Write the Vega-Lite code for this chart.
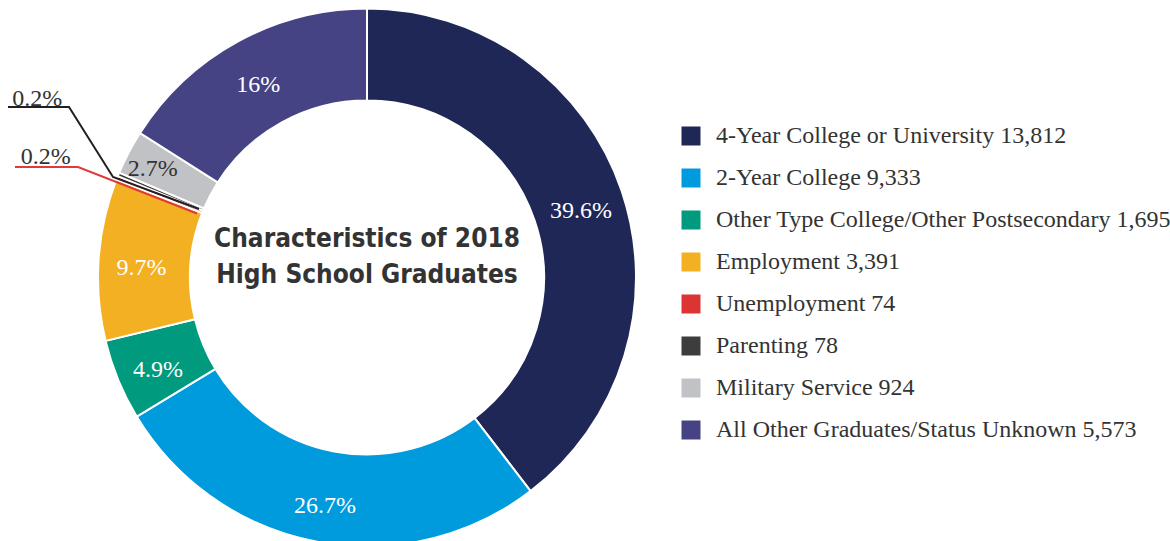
{
  "$schema": "https://vega.github.io/schema/vega-lite/v6.json",
  "padding": {"left": 0, "top": 0, "right": 436, "bottom": 0},
  "autosize": {"type": "none"},
  "width": 734,
  "height": 555,
  "background": "white",
  "config": {"view": {"stroke": null}},
  "datasets": {
    "slices": [
      {"idx": 1, "status": "4-Year College or University", "count": 13812, "pct": "39.6%", "label": "4-Year College or University 13,812"},
      {"idx": 2, "status": "2-Year College", "count": 9333, "pct": "26.7%", "label": "2-Year College 9,333"},
      {"idx": 3, "status": "Other Type College/Other Postsecondary", "count": 1695, "pct": "4.9%", "label": "Other Type College/Other Postsecondary 1,695"},
      {"idx": 4, "status": "Employment", "count": 3391, "pct": "9.7%", "label": "Employment 3,391"},
      {"idx": 5, "status": "Unemployment", "count": 74, "pct": "0.2%", "label": "Unemployment 74"},
      {"idx": 6, "status": "Parenting", "count": 78, "pct": "0.2%", "label": "Parenting 78"},
      {"idx": 7, "status": "Military Service", "count": 924, "pct": "2.7%", "label": "Military Service 924"},
      {"idx": 8, "status": "All Other Graduates/Status Unknown", "count": 5573, "pct": "16%", "label": "All Other Graduates/Status Unknown 5,573"}
    ],
    "leaders": [
      {"line": "Parenting", "seq": 1, "x": -359, "y": 170.5},
      {"line": "Parenting", "seq": 2, "x": -298, "y": 170.5},
      {"line": "Parenting", "seq": 3, "x": -254, "y": 100.5},
      {"line": "Parenting", "seq": 4, "x": -168, "y": 68.5},
      {"line": "Unemployment", "seq": 1, "x": -352, "y": 110.5},
      {"line": "Unemployment", "seq": 2, "x": -289, "y": 110.5},
      {"line": "Unemployment", "seq": 3, "x": -170, "y": 64}
    ]
  },
  "layer": [
    {
      "data": {"name": "slices"},
      "mark": {"type": "arc", "radius": 269, "radius2": 177, "stroke": "white", "strokeWidth": 2},
      "encoding": {
        "theta": {"field": "count", "type": "quantitative", "stack": true},
        "order": {"field": "idx", "type": "quantitative"},
        "color": {
          "field": "label",
          "type": "nominal",
          "scale": {
            "domain": [
              "4-Year College or University 13,812",
              "2-Year College 9,333",
              "Other Type College/Other Postsecondary 1,695",
              "Employment 3,391",
              "Unemployment 74",
              "Parenting 78",
              "Military Service 924",
              "All Other Graduates/Status Unknown 5,573"
            ],
            "range": ["#1f2757", "#009bdd", "#009a7e", "#f2b022", "#dc3333", "#3d3d3d", "#c1c2c6", "#464385"]
          },
          "legend": {
            "orient": "none",
            "legendX": 679,
            "legendY": 124,
            "title": null,
            "padding": 0,
            "symbolType": "square",
            "symbolSize": 361,
            "symbolStrokeWidth": 0,
            "symbolOpacity": 1,
            "labelFont": "Liberation Serif",
            "labelFontSize": 24,
            "labelColor": "#333333",
            "labelLimit": 0,
            "labelOffset": 13,
            "rowPadding": 18
          }
        }
      }
    },
    {
      "data": {"name": "slices"},
      "mark": {"type": "text", "radius": 226, "dy": 6, "font": "Liberation Serif", "fontSize": 24, "fill": "white", "align": "center", "baseline": "middle"},
      "encoding": {
        "theta": {"field": "count", "type": "quantitative", "stack": true},
        "order": {"field": "idx", "type": "quantitative"},
        "text": {"condition": {"test": "datum.count > 1000", "field": "pct", "type": "nominal"}, "value": ""}
      }
    },
    {
      "data": {"name": "slices"},
      "mark": {"type": "text", "radius": 242, "dy": 4, "font": "Liberation Serif", "fontSize": 24, "fill": "#333333", "align": "center", "baseline": "middle"},
      "encoding": {
        "theta": {"field": "count", "type": "quantitative", "stack": true},
        "order": {"field": "idx", "type": "quantitative"},
        "text": {"condition": {"test": "datum.status === 'Military Service'", "field": "pct", "type": "nominal"}, "value": ""}
      }
    },
    {
      "data": {"name": "slices"},
      "mark": {"type": "text", "radius": 346, "dy": 8, "font": "Liberation Serif", "fontSize": 24, "fill": "#333333", "align": "center", "baseline": "middle"},
      "encoding": {
        "theta": {"field": "count", "type": "quantitative", "stack": true},
        "order": {"field": "idx", "type": "quantitative"},
        "text": {"condition": {"test": "datum.status === 'Unemployment'", "field": "pct", "type": "nominal"}, "value": ""}
      }
    },
    {
      "data": {"name": "slices"},
      "mark": {"type": "text", "radius": 357, "dy": -42, "font": "Liberation Serif", "fontSize": 24, "fill": "#333333", "align": "center", "baseline": "middle"},
      "encoding": {
        "theta": {"field": "count", "type": "quantitative", "stack": true},
        "order": {"field": "idx", "type": "quantitative"},
        "text": {"condition": {"test": "datum.status === 'Parenting'", "field": "pct", "type": "nominal"}, "value": ""}
      }
    },
    {
      "data": {"name": "leaders"},
      "transform": [{"filter": "datum.line === 'Unemployment'"}],
      "mark": {"type": "line", "stroke": "#e03a3a", "strokeWidth": 2},
      "encoding": {
        "x": {"field": "x", "type": "quantitative", "scale": {"domain": [-367, 367], "nice": false, "zero": false}, "axis": null},
        "y": {"field": "y", "type": "quantitative", "scale": {"domain": [-277.5, 277.5], "nice": false, "zero": false}, "axis": null},
        "order": {"field": "seq", "type": "quantitative"}
      }
    },
    {
      "data": {"name": "leaders"},
      "transform": [{"filter": "datum.line === 'Parenting'"}],
      "mark": {"type": "line", "stroke": "#231f20", "strokeWidth": 2},
      "encoding": {
        "x": {"field": "x", "type": "quantitative", "scale": {"domain": [-367, 367], "nice": false, "zero": false}, "axis": null},
        "y": {"field": "y", "type": "quantitative", "scale": {"domain": [-277.5, 277.5], "nice": false, "zero": false}, "axis": null},
        "order": {"field": "seq", "type": "quantitative"}
      }
    },
    {
      "data": {"values": [{"title": "Characteristics of 2018 High School Graduates"}]},
      "mark": {
        "type": "text",
        "text": ["Characteristics of 2018", "High School Graduates"],
        "font": "Liberation Sans Narrow, DejaVu Sans Condensed, Roboto Condensed, sans-serif",
        "fontWeight": "bold",
        "fontSize": 26,
        "lineHeight": 36,
        "fill": "#333333",
        "align": "center",
        "baseline": "alphabetic",
        "dy": -30.5
      },
      "encoding": {}
    }
  ]
}
